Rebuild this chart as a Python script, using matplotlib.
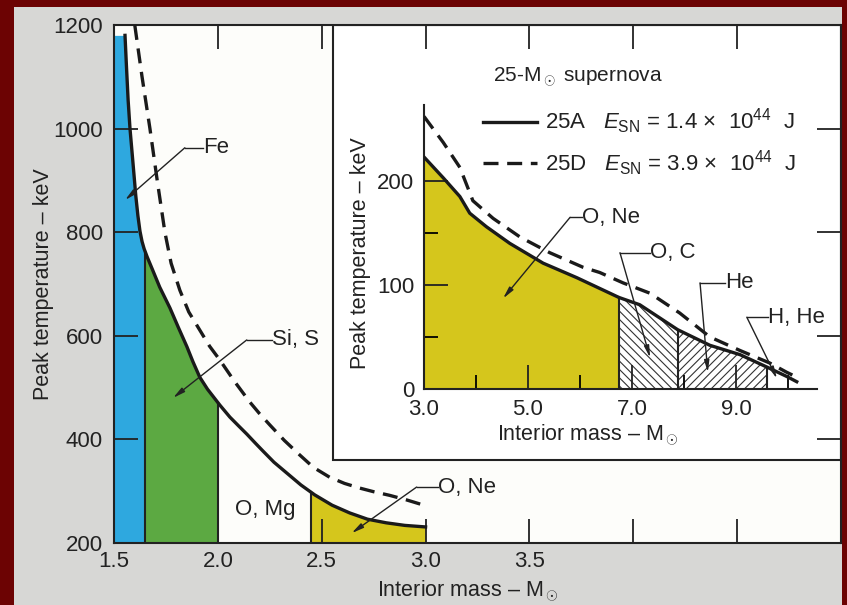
import numpy as np
import matplotlib
matplotlib.use('Agg')
import matplotlib.pyplot as plt
from matplotlib.patches import Rectangle

plt.rcParams['font.family'] = ['Liberation Sans', 'DejaVu Sans']
plt.rcParams['mathtext.fontset'] = 'custom'
plt.rcParams['mathtext.rm'] = 'Liberation Sans'
plt.rcParams['mathtext.it'] = 'Liberation Sans:italic'
plt.rcParams['hatch.linewidth'] = 0.8

# main panel, 25A (solid) and 25D (dashed): interior mass (Msun) vs peak temperature (keV)
mass_a = [1.553, 1.560, 1.568, 1.577, 1.590, 1.605, 1.615, 1.625, 1.635, 1.645, 1.660,
          1.685, 1.720, 1.769, 1.810, 1.851, 1.880, 1.913, 1.950, 2.010, 2.058, 2.100,
          2.140, 2.180, 2.216, 2.270, 2.332, 2.400, 2.466, 2.550, 2.635, 2.720, 2.810,
          2.900, 3.000]
temp_a = [1180, 1120, 1055, 1000, 940, 870, 832, 802, 782, 768, 752,
          728, 694, 654, 616, 579, 550, 520, 497, 466, 443, 426,
          410, 393, 378, 356, 335, 312, 293, 273, 258, 246, 239,
          234, 231]
mass_d = [1.600, 1.635, 1.673, 1.708, 1.745, 1.775, 1.817, 1.860, 1.913, 1.960, 2.010,
          2.080, 2.154, 2.200, 2.250, 2.320, 2.394, 2.460, 2.538, 2.610, 2.683, 2.750,
          2.827, 2.910, 3.000]
temp_d = [1200, 1100, 1000, 900, 800, 740, 688, 646, 611, 580, 553,
          512, 472, 450, 428, 398, 370, 346, 327, 315, 306, 299,
          292, 283, 272]

# burning zones in the main panel (mass boundaries)
zone_edges = [1.5, 1.65, 2.0]
one_zone = [2.45, 3.0]

# inset, 25 Msun supernova
in_mass_a = [3.0, 3.37, 3.69, 3.88, 4.2, 4.65, 5.29, 5.94, 6.75, 7.15, 7.88, 8.5,
             9.08, 9.6, 9.98, 10.17]
in_temp_a = [223, 203, 185, 169, 156, 140, 121, 107, 88, 81, 57, 42,
             33, 21, 12, 7]
in_mass_d = [3.0, 3.37, 3.69, 3.94, 4.33, 4.85, 5.42, 6.06, 6.38, 6.83, 7.35, 7.92,
             8.5, 9.08, 9.65, 9.98, 10.23]
in_temp_d = [262, 237, 213, 181, 164, 146, 131, 117, 112, 102, 92, 73,
             50, 37, 25, 16, 10]
in_edges = [3.0, 6.75, 7.88, 9.6]

blue = '#2ea8df'
green = '#5ca942'
yellow = '#d5c61c'
ink = '#222222'
FS_TICK = 16
FS_LAB = 15.5


def under(xs, ys, x0, x1):
    xs = np.asarray(xs, float)
    ys = np.asarray(ys, float)
    m = (xs > x0) & (xs < x1)
    x = np.concatenate([[x0], xs[m], [x1]])
    return x, np.interp(x, xs, ys)


def leader(ax, text, tip, elbow, end):
    ax.plot([elbow[0], end[0]], [elbow[1], elbow[1]], color=ink, lw=1.0, clip_on=False)
    ax.annotate('', xy=tip, xytext=elbow,
                arrowprops=dict(arrowstyle='-|>,head_length=0.7,head_width=0.15',
                                color=ink, lw=1.0, shrinkA=0, shrinkB=0))
    ax.text(end[0], elbow[1], text, va='center', ha='left', fontsize=16, color=ink)


fig = plt.figure(figsize=(8.47, 6.05), dpi=100)
fig.patch.set_facecolor('#6c0303')
fig.add_artist(Rectangle((14 / 847, 0), 828 / 847, 598 / 605, transform=fig.transFigure,
                         facecolor='#d7d7d5', edgecolor='none', zorder=-5))

ax = fig.add_axes([114 / 847, 62 / 605, 727 / 847, 518 / 605])
ax.set_facecolor('#fdfdfa')
ax.set_xlim(1.5, 5.0)
ax.set_ylim(200, 1200)

# inset frame
ax.add_patch(Rectangle((0.301, 0.16), 0.699, 0.84, transform=ax.transAxes,
                       facecolor='white', edgecolor=ink, lw=1.5, zorder=1.2))

x, y = under(mass_a, temp_a, zone_edges[0], zone_edges[1])
ax.fill_between(x, 200, y, color=blue, lw=0, zorder=1)
x, y = under(mass_a, temp_a, zone_edges[1], zone_edges[2])
ax.fill_between(x, 200, y, color=green, lw=0, zorder=1)
x, y = under(mass_a, temp_a, one_zone[0], one_zone[1])
ax.fill_between(x, 200, y, color=yellow, lw=0, zorder=1)
for e in [zone_edges[1], zone_edges[2], one_zone[0]]:
    ax.plot([e, e], [200, np.interp(e, mass_a, temp_a)], color=ink, lw=1.5, zorder=1.5)

ax.plot(mass_a, temp_a, color='#1a1a1a', lw=2.4, zorder=3)
ax.plot(mass_d, temp_d, color='#1a1a1a', lw=2.4, zorder=3, dashes=(4.5, 2.6))

ax.set_xticks([1.5, 2.0, 2.5, 3.0, 3.5, 4.0, 4.5])
ax.set_xticklabels(['1.5', '2.0', '2.5', '3.0', '3.5', '', ''])
ax.set_yticks([200, 400, 600, 800, 1000, 1200])
ax.tick_params(direction='in', length=17, width=1.3, top=True, right=True,
               labelsize=FS_TICK, colors=ink)
ax.tick_params(axis='y', pad=8)
ax.tick_params(axis='x', pad=6)
for s in ax.spines.values():
    s.set_linewidth(1.5)
    s.set_color(ink)
ax.set_xlabel('Interior mass – M$_\\odot$', fontsize=FS_LAB, color=ink)
ax.xaxis.set_label_coords(0.487, -0.068)
ax.set_ylabel('Peak temperature – keV', fontsize=FS_LAB, color=ink)
ax.yaxis.set_label_coords(-0.083, 0.5)

leader(ax, 'Fe', (1.553, 862), (1.841, 963), (1.928, 963))
leader(ax, 'Si, S', (1.784, 480), (2.139, 592), (2.26, 592))
leader(ax, 'O, Ne', (2.644, 219), (2.957, 308), (3.058, 308))
ax.text(2.23, 264, 'O, Mg', fontsize=16, ha='center', va='center', color=ink)

# inset axes
ins = fig.add_axes([424 / 847, 216 / 605, 393 / 847, 284 / 605])
ins.set_facecolor('none')
ins.set_xlim(3.0, 10.56)
ins.set_ylim(0, 273)
for s in ['top', 'right']:
    ins.spines[s].set_visible(False)
for s in ['left', 'bottom']:
    ins.spines[s].set_linewidth(1.5)
    ins.spines[s].set_color(ink)

x, y = under(in_mass_a, in_temp_a, in_edges[0], in_edges[1])
ins.fill_between(x, 0, y, color=yellow, lw=0)
x, y = under(in_mass_a, in_temp_a, in_edges[1], in_edges[2])
ins.fill_between(x, 0, y, facecolor='white', edgecolor='#333333', hatch='\\\\\\\\', lw=0)
x, y = under(in_mass_a, in_temp_a, in_edges[2], in_edges[3])
ins.fill_between(x, 0, y, facecolor='white', edgecolor='#333333', hatch='////', lw=0)
for e in in_edges[1:]:
    ins.plot([e, e], [0, np.interp(e, in_mass_a, in_temp_a)], color=ink, lw=1.5)

ins.plot(in_mass_a, in_temp_a, color='#1a1a1a', lw=2.4, zorder=3)
ins.plot(in_mass_d, in_temp_d, color='#1a1a1a', lw=2.4, zorder=3, dashes=(4.5, 2.6))

ins.set_xticks([3, 5, 7, 9])
ins.set_xticklabels(['3.0', '5.0', '7.0', '9.0'])
ins.set_xticks([4, 6, 8, 10], minor=True)
ins.set_yticks([0, 100, 200])
ins.set_yticks([50, 150], minor=True)
ins.tick_params(which='major', direction='in', length=17, width=1.3, labelsize=FS_TICK,
                colors=ink, pad=7)
ins.tick_params(which='minor', direction='in', length=10, width=1.3)
ins.set_xlabel('Interior mass – M$_\\odot$', fontsize=FS_LAB, color=ink)
ins.xaxis.set_label_coords(0.417, -0.118)
ins.set_ylabel('Peak temperature – keV', fontsize=FS_LAB, color=ink)
ins.yaxis.set_label_coords(-0.135, 0.48)

leader(ins, 'O, Ne', (4.52, 87), (5.81, 165), (6.04, 165))
leader(ins, 'O, C', (7.35, 30), (6.77, 131), (7.35, 131))
leader(ins, 'He', (8.46, 16), (8.31, 102), (8.79, 102))
leader(ins, 'H, He', (9.79, 10), (9.21, 69), (9.62, 69))

# legend
ins.text(5.96, 300, '25-M$_\\odot$ supernova', fontsize=15, ha='center', va='center',
         color=ink, clip_on=False)
ins.plot([4.13, 5.17], [257, 257], color='#1a1a1a', lw=2.4, clip_on=False)
ins.plot([4.13, 5.17], [217, 217], color='#1a1a1a', lw=2.4, dashes=(4.5, 2.6), clip_on=False)
ins.text(5.33, 257, '25A   $E_{\\rm SN}$ = 1.4 ×  10$^{44}$  J', fontsize=16, va='center',
         color=ink, clip_on=False)
ins.text(5.33, 217, '25D   $E_{\\rm SN}$ = 3.9 ×  10$^{44}$  J', fontsize=16, va='center',
         color=ink, clip_on=False)

fig.savefig('out.png', dpi=100)
